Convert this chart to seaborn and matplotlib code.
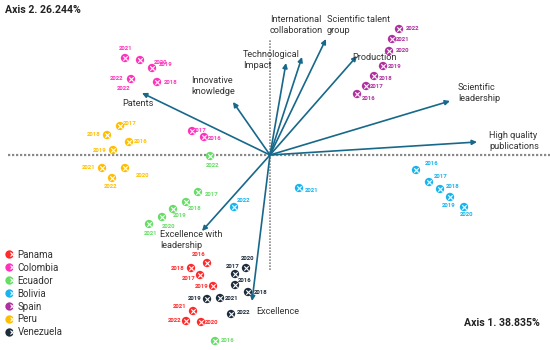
import pandas as pd
import matplotlib.pyplot as plt
import seaborn as sns
from matplotlib.lines import Line2D
from matplotlib.legend_handler import HandlerTuple

sns.set_theme(style="white")
plt.rcParams["font.family"] = ["Roboto", "DejaVu Sans"]

# Principal-component scores (Axis 1, Axis 2)
YEARS = [2016, 2017, 2018, 2019, 2020, 2021, 2022]
COUNTRIES = ["Panama", "Colombia", "Ecuador", "Bolivia", "Spain", "Peru", "Venezuela"]

panama_x = [-0.63, -0.70, -0.79, -0.57, -0.69, -0.77, -0.84]
panama_y = [-1.08, -1.20, -1.13, -1.31, -1.67, -1.56, -1.66]
colombia_x = [-0.66, -0.78, -1.13, -1.18, -1.30, -1.45, -1.39]
colombia_y = [0.18, 0.24, 0.73, 0.87, 0.95, 0.97, 0.76]
ecuador_x = [-0.55, -0.72, -0.84, -0.97, -1.08, -1.21, -0.60]
ecuador_y = [-1.86, -0.37, -0.47, -0.54, -0.62, -0.69, -0.01]
bolivia_x = [1.46, 1.59, 1.70, 1.80, 1.94, 0.29, -0.36]
bolivia_y = [-0.15, -0.27, -0.34, -0.42, -0.52, -0.33, -0.52]
spain_x = [0.87, 0.96, 1.04, 1.13, 1.19, 1.22, 1.29]
spain_y = [0.61, 0.69, 0.79, 0.89, 1.04, 1.16, 1.26]
peru_x = [-1.41, -1.50, -1.63, -1.57, -1.45, -1.68, -1.58]
peru_y = [0.13, 0.29, 0.20, 0.05, -0.13, -0.13, -0.23]
venezuela_x = [-0.35, -0.35, -0.22, -0.63, -0.24, -0.50, -0.39]
venezuela_y = [-1.30, -1.19, -1.37, -1.44, -1.13, -1.43, -1.59]

# Variable loadings (arrow tips)
VARIABLES = ["Patents", "Innovative\nknowledge", "Technological\nImpact",
             "International\ncollaboration", "Scientific talent\ngroup", "Production",
             "Scientific\nleadership", "High quality\npublications",
             "Excellence with\nleadership", "Excellence"]
load_x = [-1.28, -0.37, 0.16, 0.32, 0.56, 0.87, 1.80, 2.07, -0.68, -0.18]
load_y = [0.62, 0.53, 0.92, 0.98, 1.16, 0.99, 0.54, 0.13, -0.76, -1.46]

AXIS1_LABEL = "Axis 1. 38.835%"
AXIS2_LABEL = "Axis 2. 26.244%"

PALETTE = {
    "Panama": "#ff2a2a",
    "Colombia": "#ff33bb",
    "Ecuador": "#66dd66",
    "Bolivia": "#19b4ee",
    "Spain": "#b0309f",
    "Peru": "#ffbf00",
    "Venezuela": "#1e2d3d",
}
ARROW_COLOR = "#17688a"

# Layout: year-label offsets in pixels (dx, dy) per country, in YEARS order
YEAR_OFFSETS = {
    "Panama": [(-8, 9), (-11, -3), (-13, 0), (-11, -1), (11, 0), (-13, 5), (-11, 0)],
    "Colombia": [(11, -1), (8, 1), (14, 0), (14, 3), (21, -2), (1, 10), (-14, 0)],
    "Ecuador": [(13, 1), (14, -2), (9, -6), (7, -6), (7, -9), (2, -9), (3, -9)],
    "Bolivia": [(16, 7), (12, 6), (13, 3), (-1, -8), (3, -7), (13, -2), (10, 7)],
    "Spain": [(12, -4), (11, -1), (12, -2), (12, 0), (14, 0), (11, 0), (14, 0)],
    "Peru": [(12, 1), (10, 3), (-13, 1), (-13, 0), (18, -7), (-13, 1), (-1, -8)],
    "Venezuela": [(10, 4), (-2, 8), (13, -1), (-12, 0), (2, 10), (12, -1), (13, 1)],
}
# Variable-label offsets in pixels from the arrow tip, with alignment
VAR_OFFSETS = [(-4, -10, "center"), (-42, 16, "left"), (-43, 3, "left"),
               (-32, 32, "left"), (1, 14, "left"), (-5, -1, "left"),
               (8, 8, "left"), (12, 1, "left"), (-42, -9, "left"), (4, -10, "left")]

series = {
    "Panama": (panama_x, panama_y),
    "Colombia": (colombia_x, colombia_y),
    "Ecuador": (ecuador_x, ecuador_y),
    "Bolivia": (bolivia_x, bolivia_y),
    "Spain": (spain_x, spain_y),
    "Peru": (peru_x, peru_y),
    "Venezuela": (venezuela_x, venezuela_y),
}
rows = []
for country in COUNTRIES:
    xs, ys = series[country]
    for year, x, y in zip(YEARS, xs, ys):
        rows.append({"country": country, "year": year, "axis1": x, "axis2": y})
df = pd.DataFrame(rows)

fig = plt.figure(figsize=(5.5, 3.5), dpi=100)
ax = fig.add_axes([0, 0, 1, 1])
ax.set_xlim(-2.70, 2.80)
ax.set_ylim(-1.95, 1.55)
ax.axis("off")

# Dotted reference axes
ax.plot([-2.62, 2.80], [0, 0], color="#8a8a8a", lw=1.6, ls=(0, (1, 0.8)), zorder=1)
ax.plot([0, 0], [-1.15, 1.15], color="#8a8a8a", lw=1.2, ls=(0, (1, 0.8)), zorder=1)

# Loadings arrows
for name, lx, ly, (dx, dy, ha) in zip(VARIABLES, load_x, load_y, VAR_OFFSETS):
    ax.annotate("", xy=(lx, ly), xytext=(0, 0),
                arrowprops=dict(arrowstyle="-|>", color=ARROW_COLOR, lw=1.2,
                                mutation_scale=7, shrinkA=0, shrinkB=0), zorder=2)
    ax.annotate(name, xy=(lx, ly), xytext=(dx, dy), textcoords="offset pixels",
                ha=ha, va="center", fontsize=6.6, color="#333333",
                linespacing=1.25, zorder=4)

# Country scores
sns.scatterplot(data=df, x="axis1", y="axis2", hue="country", palette=PALETTE,
                s=36, edgecolor="none", legend=False, ax=ax, zorder=3)
ax.scatter(df["axis1"], df["axis2"], marker="x", s=10, color="white",
           linewidths=0.8, zorder=3.5)

for country in COUNTRIES:
    sub = df[df["country"] == country]
    for (_, r), (dx, dy) in zip(sub.iterrows(), YEAR_OFFSETS[country]):
        ax.annotate(str(r["year"]), xy=(r["axis1"], r["axis2"]), xytext=(dx, dy),
                    textcoords="offset pixels", ha="center", va="center",
                    fontsize=4.3, fontweight="bold", color=PALETTE[country], zorder=4)
# Duplicate label printed next to Colombia 2022 in the original
ax.annotate("2022", xy=(colombia_x[6], colombia_y[6]), xytext=(-7, -9),
            textcoords="offset pixels", ha="center", va="center", fontsize=4.3,
            fontweight="bold", color=PALETTE["Colombia"], zorder=4)

# Axis captions
fig.text(0.009, 0.971, AXIS2_LABEL, ha="left", va="center", fontsize=7.6,
         fontweight="bold", color="#222222")
fig.text(0.982, 0.077, AXIS1_LABEL, ha="right", va="center", fontsize=7.6,
         fontweight="bold", color="#222222")

# Legend
handles = []
for country in COUNTRIES:
    dot = Line2D([], [], ls="none", marker="o", markersize=6,
                 markerfacecolor=PALETTE[country], markeredgecolor="none")
    cross = Line2D([], [], ls="none", marker="x", markersize=3,
                   markeredgecolor="white", markeredgewidth=0.8)
    handles.append((dot, cross))
ax.legend(handles, COUNTRIES, handler_map={tuple: HandlerTuple(ndivide=None, pad=0)},
          loc="lower left", bbox_to_anchor=(0.006, 0.025), frameon=False,
          fontsize=7, handlelength=0.7, handletextpad=0.35, labelspacing=0.3,
          borderaxespad=0, labelcolor="#333333")

fig.savefig("out.png", dpi=100)
